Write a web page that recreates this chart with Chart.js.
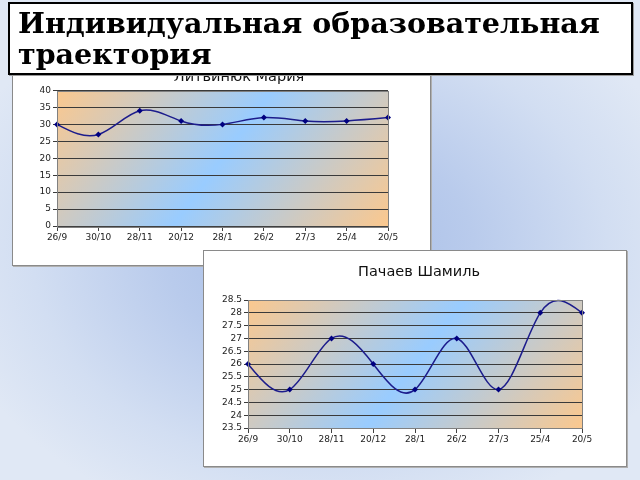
<!DOCTYPE html>
<html>
<head>
<meta charset="utf-8">
<script src="https://cdn.jsdelivr.net/npm/chart.js@4/dist/chart.umd.min.js"></script>
<style>
  html, body { margin:0; padding:0; }
  body {
    width:640px; height:480px; overflow:hidden; position:relative;
    background: radial-gradient(ellipse 60% 60% at 50% 52%, #a3bbe6 0%, #b9cbec 40%, #d2def2 75%, #e0e8f5 100%);
  }
  .panel { position:absolute; background:#fff; border:1px solid #8a8a8a; box-shadow: 1px 1px 0 #b0b0b0; overflow:hidden; }
  .panel canvas { display:block; }
  #titleBox {
    position:absolute; left:8px; top:2px; width:613px; height:65px;
    background:#fff; border:2px solid #000; box-shadow:1px 1px 0 #9a9a9a;
    font-family:"DejaVu Serif", serif; font-weight:bold; font-size:28.5px; line-height:31px;
    color:#000; padding:4px 0 0 8px; box-sizing:content-box; z-index:5; white-space:nowrap;
  }
</style>
</head>
<body>
<div class="panel" id="p1" style="left:12px; top:52px; width:417px; height:212px;"><canvas id="c1" width="417" height="212"></canvas></div>
<div class="panel" id="p2" style="left:203px; top:250px; width:422px; height:215px;"><canvas id="c2" width="422" height="215"></canvas></div>
<div id="titleBox">Индивидуальная образовательная<br>траектория</div>
<script>
const dateLabels = ['26/9','30/10','28/11','20/12','28/1','26/2','27/3','25/4','20/5'];
const litvinyukTitle = 'Литвинюк Мария';
const litvinyukValues = [30, 27, 34, 31, 30, 32, 31, 31, 32];
const litvinyukAxis = [0, 40, 5];
const pachaevTitle = 'Пачаев Шамиль';
const pachaevValues = [26, 25, 27, 26, 25, 27, 25, 28, 28];
const pachaevAxis = [23.5, 28.5, 0.5];

// Natural cubic spline smoothing (as in the original office chart), expressed
// as Bezier control points on the points that Chart.js placed on its scales.
const splineSmooth = {
  id: 'splineSmooth',
  beforeDatasetsDraw(chart) {
    chart.data.datasets.forEach((ds, di) => {
      const meta = chart.getDatasetMeta(di);
      const pts = meta.data;
      const n = pts.length - 1;
      if (n < 2) return;
      const xs = pts.map(p => p.x), ys = pts.map(p => p.y);
      const h = [];
      for (let i = 0; i < n; i++) h.push(xs[i + 1] - xs[i]);
      const M = new Array(n + 1).fill(0);
      const a = [], b = [], c = [], d = [];
      for (let i = 1; i < n; i++) {
        a.push(h[i - 1]); b.push(2 * (h[i - 1] + h[i])); c.push(h[i]);
        d.push(6 * ((ys[i + 1] - ys[i]) / h[i] - (ys[i] - ys[i - 1]) / h[i - 1]));
      }
      const m = b.length;
      for (let i = 1; i < m; i++) {
        const w = a[i] / b[i - 1];
        b[i] -= w * c[i - 1];
        d[i] -= w * d[i - 1];
      }
      const sol = new Array(m);
      sol[m - 1] = d[m - 1] / b[m - 1];
      for (let i = m - 2; i >= 0; i--) sol[i] = (d[i] - c[i] * sol[i + 1]) / b[i];
      for (let i = 1; i < n; i++) M[i] = sol[i - 1];
      const der = new Array(n + 1);
      for (let i = 0; i < n; i++) der[i] = (ys[i + 1] - ys[i]) / h[i] - h[i] * (2 * M[i] + M[i + 1]) / 6;
      der[n] = (ys[n] - ys[n - 1]) / h[n - 1] + h[n - 1] * (M[n - 1] + 2 * M[n]) / 6;
      for (let i = 0; i <= n; i++) {
        const hp = i > 0 ? h[i - 1] : 0, hn = i < n ? h[i] : 0;
        pts[i].cp1x = xs[i] - hp / 3; pts[i].cp1y = ys[i] - der[i] * hp / 3;
        pts[i].cp2x = xs[i] + hn / 3; pts[i].cp2y = ys[i] + der[i] * hn / 3;
      }
      meta.dataset._pointsUpdated = true;
    });
  }
};

const plotBg = {
  id: 'plotBg',
  beforeDraw(chart) {
    const a = chart.chartArea, ctx = chart.ctx;
    ctx.save();
    ctx.translate(a.left, a.top);
    ctx.scale(a.right - a.left, a.bottom - a.top);
    const g = ctx.createLinearGradient(0, 0, 1.192, 0.356);
    g.addColorStop(0, '#fbc88e');
    g.addColorStop(0.5, '#99ccff');
    g.addColorStop(1, '#fbc88e');
    ctx.fillStyle = g;
    ctx.fillRect(0, 0, 1, 1);
    ctx.restore();
  },
  afterDraw(chart) {
    const a = chart.chartArea, ctx = chart.ctx;
    ctx.save();
    ctx.strokeStyle = '#808080';
    ctx.lineWidth = 1;
    ctx.strokeRect(Math.round(a.left) + 0.5, Math.round(a.top) + 0.5, Math.round(a.right - a.left), Math.round(a.bottom - a.top));
    // panel title (placed as in the original, not centred on the canvas)
    const t = chart.options.plugins.plotBg;
    ctx.fillStyle = '#111';
    ctx.font = '14.5px "DejaVu Sans"';
    ctx.textAlign = 'center';
    ctx.textBaseline = 'alphabetic';
    ctx.fillText(t.title, t.tx, t.ty);
    ctx.restore();
  }
};

function makeChart(id, title, values, axis, g) {
  new Chart(document.getElementById(id), {
    type: 'line',
    data: {
      labels: dateLabels,
      datasets: [{
        data: values,
        borderColor: '#1c1c8c',
        borderWidth: 1.5,
        tension: 0.4,
        pointStyle: 'rectRot',
        pointRadius: 3,
        pointBackgroundColor: '#000080',
        pointBorderColor: '#000080',
        pointBorderWidth: 0,
        fill: false,
        clip: 4
      }]
    },
    options: {
      responsive: false,
      animation: false,
      devicePixelRatio: 1,
      elements: { line: { capBezierPoints: false } },
      layout: { padding: { left: 0, right: g.right, top: g.top, bottom: 0 } },
      plugins: {
        legend: { display: false },
        tooltip: { enabled: false },
        title: { display: false },
        plotBg: { title: title, tx: g.tx, ty: g.ty }
      },
      scales: {
        x: {
          type: 'category',
          offset: false,
          afterFit: s => { s.height = g.xH; },
          grid: { display: true, drawOnChartArea: false, drawTicks: true, tickLength: 5, color: '#404040' },
          border: { display: true, color: '#404040' },
          ticks: { color: '#222', font: { family: 'DejaVu Sans', size: 9 }, maxRotation: 0, autoSkip: false, padding: 1 }
        },
        y: {
          min: axis[0], max: axis[1],
          afterFit: s => { s.width = g.yW; },
          grid: { color: '#3a3a3a', lineWidth: 1, tickLength: 4 },
          border: { display: true, color: '#404040' },
          ticks: { stepSize: axis[2], autoSkip: false, color: '#222', font: { family: 'DejaVu Sans', size: 9 }, padding: 2,
                   callback: v => String(Math.round(v * 10) / 10) }
        }
      }
    },
    plugins: [plotBg, splineSmooth]
  });
}

makeChart('c1', litvinyukTitle, litvinyukValues, litvinyukAxis, { right: 42, top: 37.5, xH: 39, yW: 44, tx: 226, ty: 27.5 });
makeChart('c2', pachaevTitle, pachaevValues, pachaevAxis, { right: 44, top: 49, xH: 38, yW: 44, tx: 215, ty: 25.3 });
</script>
</body>
</html>
